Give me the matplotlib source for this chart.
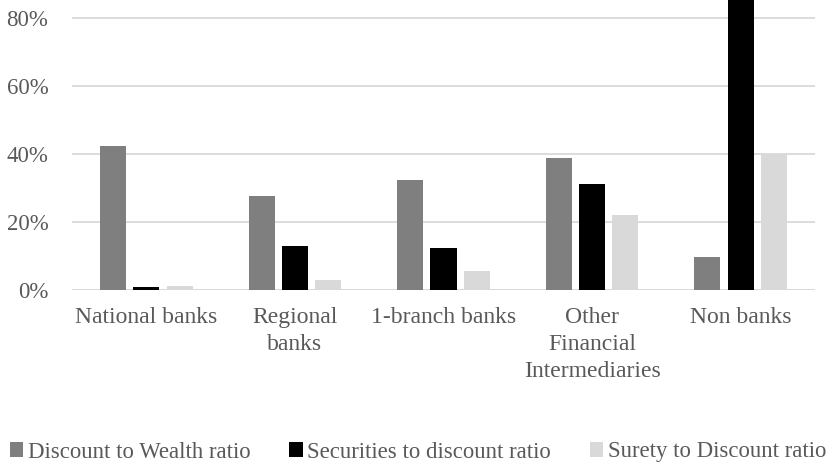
import matplotlib.pyplot as plt
import numpy as np
from matplotlib.patches import Patch

categories = ["National banks", "Regional\nbanks", "1-branch banks",
              "Other\nFinancial\nIntermediaries", "Non banks"]
discount_to_wealth = [42.4, 27.6, 32.5, 38.7, 9.7]
securities_to_discount = [1.0, 12.8, 12.5, 31.2, 88.0]
surety_to_discount = [1.3, 3.0, 5.6, 22.2, 40.0]
series_names = ["Discount to Wealth ratio", "Securities to discount ratio",
                "Surety to Discount ratio"]
yticks = [0, 20, 40, 60, 80]

colors = ["#7f7f7f", "#000000", "#d9d9d9"]
text_color = "#595959"
plt.rcParams['font.family'] = ['Liberation Serif', 'DejaVu Serif']

fig = plt.figure(figsize=(8.31, 4.66), dpi=100)
ax = fig.add_axes([72 / 831, 1 - 290 / 466, (815 - 72) / 831, 290 / 466])

x = np.arange(len(categories))
width = 0.176
step = 0.224
for i, (vals, c) in enumerate(zip([discount_to_wealth, securities_to_discount,
                                   surety_to_discount], colors)):
    ax.bar(x + (i - 1) * step, vals, width=width, color=c, zorder=3)

ax.set_xlim(-0.5, len(categories) - 0.5)
ax.set_ylim(0, 85.3)
ax.set_yticks(yticks)
ax.set_yticklabels([f"{v}%" for v in yticks])
ax.yaxis.grid(True, color="#d9d9d9", linewidth=1.3, zorder=0)
ax.set_axisbelow(True)
for s in ax.spines.values():
    s.set_visible(False)
ax.set_xticks(x)
ax.set_xticklabels(categories, multialignment="center", linespacing=1.4)
ax.tick_params(axis="both", length=0, colors=text_color)
ax.tick_params(axis="x", pad=12, labelsize=17)
ax.tick_params(axis="y", pad=17, labelsize=16.5)
ax.axhline(0, color="#d9d9d9", linewidth=1.3, zorder=2)

handles = [Patch(facecolor=c, edgecolor="none") for c in colors]
fig.legend(handles, series_names, loc="center", ncol=3,
           bbox_to_anchor=(0.503, 1 - 452 / 466), frameon=False,
           fontsize=16.4, labelcolor=text_color, handlelength=0.6,
           handleheight=0.6, handletextpad=0.2, columnspacing=1.7)

fig.savefig("out.png", dpi=100)
